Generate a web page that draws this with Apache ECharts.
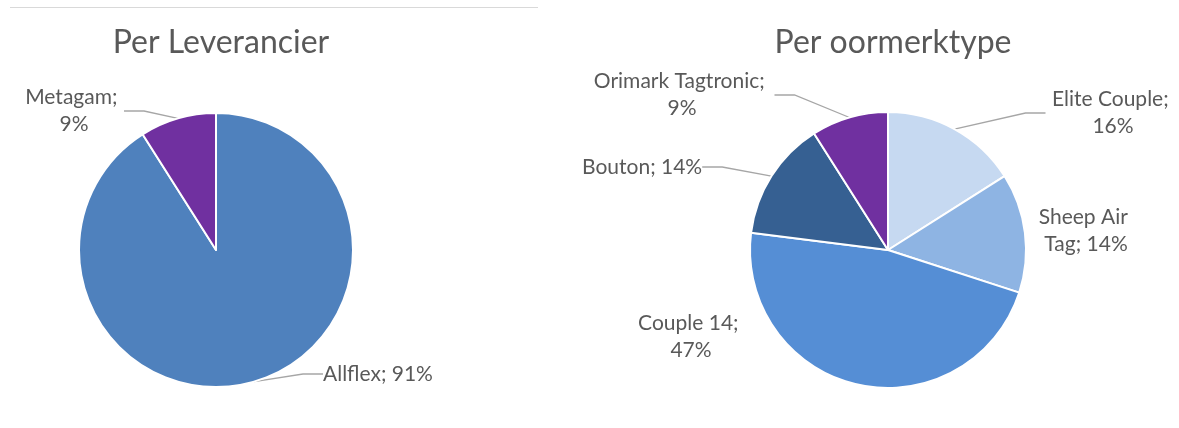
<!DOCTYPE html>
<html>
<head>
<meta charset="utf-8">
<script src="https://cdn.jsdelivr.net/npm/echarts@6/dist/echarts.min.js"></script>
<style>
  html, body { margin: 0; padding: 0; background: #fff; }
  #chart { width: 1179px; height: 428px; }
</style>
</head>
<body>
<div id="chart"></div>
<script>
// data
const supplierNames = ['Allflex', 'Metagam'];
const supplierValues = [91, 9];

const tagNames = ['Elite Couple', 'Sheep Air Tag', 'Couple 14', 'Bouton', 'Orimark Tagtronic'];
const tagValues = [16, 14, 47, 14, 9];

const supplierColors = ['#4F81BD', '#7030A0'];
const tagColors = ['#C6D9F1', '#8EB4E3', '#558ED5', '#366092', '#7030A0'];

// label placement: x, y, align, wrap width (null = one line), leader line
const supplierLabelPos = [[323, 374, 'left', null, true], [74, 111, 'center', 100, true]];
const tagLabelPos = [
  [1113, 113, 'center', 135, true],
  [1086, 231, 'center', 105, false],
  [691, 337, 'center', 115, false],
  [582, 167, 'left', null, true],
  [682, 95, 'center', 185, true]
];

const textColor = '#595959';
const fontFamily = 'Lato, "Open Sans", sans-serif';

function buildData(names, values, colors, pos) {
  return names.map((n, i) => {
    const lbl = { align: pos[i][2] };
    if (pos[i][3]) { lbl.width = pos[i][3]; lbl.overflow = 'break'; }
    return {
      name: n,
      value: values[i],
      itemStyle: { color: colors[i] },
      label: lbl,
      labelLine: { show: pos[i][4] }
    };
  });
}

function layoutFor(pos) {
  return function (params) {
    const p = pos[params.dataIndex];
    return { x: p[0], y: p[1], align: p[2], verticalAlign: 'middle' };
  };
}

const chart = echarts.init(document.getElementById('chart'));

const baseSeries = {
  type: 'pie',
  startAngle: 90,
  clockwise: true,
  avoidLabelOverlap: false,
  animation: false,
  itemStyle: { borderColor: '#fff', borderWidth: 2 },
  label: {
    show: true,
    position: 'outside',
    formatter: '{b}; {c}%',
    color: textColor,
    fontFamily: fontFamily,
    fontSize: 21,
    lineHeight: 27
  },
  labelLine: {
    show: true,
    length: 10,
    length2: 20,
    lineStyle: { color: '#A6A6A6', width: 1.3 }
  },
  emphasis: { disabled: true }
};

const option = {
  backgroundColor: '#fff',
  title: [
    {
      text: 'Per Leverancier',
      left: 216, top: 22, textAlign: 'center',
      textStyle: { color: textColor, fontFamily: fontFamily, fontSize: 32, fontWeight: 'normal' }
    },
    {
      text: 'Per oormerktype',
      left: 888, top: 22, textAlign: 'center',
      textStyle: { color: textColor, fontFamily: fontFamily, fontSize: 32, fontWeight: 'normal' }
    }
  ],
  graphic: [
    {
      type: 'line',
      shape: { x1: 10, y1: 7.5, x2: 538, y2: 7.5 },
      style: { stroke: '#D9D9D9', lineWidth: 1 }
    }
  ],
  series: [
    Object.assign({}, baseSeries, {
      name: 'Per Leverancier',
      center: [216, 250],
      radius: 137,
      data: buildData(supplierNames, supplierValues, supplierColors, supplierLabelPos),
      labelLayout: layoutFor(supplierLabelPos)
    }),
    Object.assign({}, baseSeries, {
      name: 'Per oormerktype',
      center: [888, 250],
      radius: 138,
      data: buildData(tagNames, tagValues, tagColors, tagLabelPos),
      labelLayout: layoutFor(tagLabelPos)
    })
  ]
};

chart.setOption(option);
window.addEventListener('resize', () => chart.resize());
</script>
</body>
</html>
